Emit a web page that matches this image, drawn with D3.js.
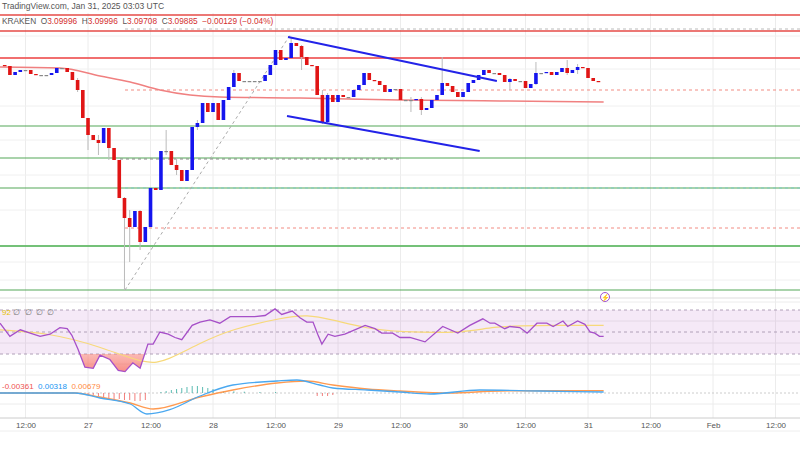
<!DOCTYPE html>
<html><head><meta charset="utf-8">
<script src="https://cdn.jsdelivr.net/npm/d3@7"></script>
<style>body{margin:0;background:#fff}svg{display:block;font-family:"Liberation Sans",Arial,sans-serif}</style>
</head><body><svg id="c" width="800" height="450"></svg>
<script>
// ---- data ----
const startTime = new Date(Date.UTC(2025,0,26,8)); // first hourly candle
const firstOpen = 3.130;
const closes = [3.128,3.110,3.116,3.120,3.120,3.112,3.110,3.110,3.110,3.114,
3.124,3.124,3.116,3.100,3.080,3.024,2.990,2.980,2.974,3.004,
2.964,2.940,2.864,2.824,2.806,2.838,2.776,2.806,2.884,2.880,
2.958,2.958,2.930,2.920,2.898,2.920,3.006,3.014,3.054,3.036,
3.054,3.020,3.060,3.086,3.114,3.098,3.098,3.098,3.098,3.098,
3.110,3.130,3.160,3.140,3.144,3.174,3.168,3.146,3.130,3.128,
3.070,3.016,3.070,3.056,3.070,3.066,3.066,3.080,3.090,3.114,
3.100,3.098,3.090,3.076,3.082,3.082,3.060,3.060,3.060,3.062,
3.040,3.044,3.060,3.070,3.094,3.088,3.076,3.066,3.076,3.094,
3.100,3.110,3.120,3.114,3.114,3.110,3.096,3.102,3.098,3.098,
3.084,3.092,3.114,3.114,3.116,3.110,3.116,3.124,3.114,3.120,
3.126,3.124,3.104,3.098,3.096];
// notable wicks: [candle index, high, low]
const wicks = [[14,3.104,3.076],[16,3.000,2.960],[18,2.990,2.950],[20,2.985,2.940],[23,2.866,2.680],[24,2.840,2.736],[26,2.840,2.760],
[31,3.000,2.950],[33,2.944,2.910],[37,3.020,3.000],[44,3.120,3.100],[55,3.186,3.150],[57,3.170,3.120],[61,3.080,3.012],[62,3.074,3.012],
[78,3.066,3.036],[80,3.066,3.030],[84,3.146,3.090],[97,3.104,3.080],[102,3.136,3.090],[108,3.140,3.110],[110,3.132,3.112]];
const hLevels = [{p:3.230,c:"#e53935",w:1.3},{p:3.198,c:"#e53935",w:1.3},{p:3.144,c:"#f06060",w:2},
{p:3.008,c:"#43a047",w:1.2},{p:2.944,c:"#43a047",w:1.2},{p:2.884,c:"#43a047",w:1.2},{p:2.768,c:"#66bb6a",w:2},{p:2.680,c:"#43a047",w:1.2}];
const dashLevels = [{p:3.080,c:"#f28b82",x0:125},{p:2.804,c:"#f28b82",x0:125},{p:3.202,c:"#bbbbbb",x0:125},{p:2.942,c:"#888888",x0:120,x1:400},{p:2.884,c:"#80cbc4",x0:125}];
// moving average [hours from Jan 27 00:00, price]
const maPts = [[-16.9,3.126],[-5.4,3.124],[2.3,3.108],[8.1,3.096],[13.8,3.080],[19.6,3.070],[25.3,3.066],[40.7,3.064],[59.9,3.060],[79.1,3.058],[99,3.056]];
const trendUpper = [[38.4,3.186],[78.5,3.098]];
const trendLower = [[38.2,3.028],[75.2,2.958]];
const diagPts = [[7.1,2.680],[38.8,3.190]];
const rsiPts = [[-16.9,58],[-15,46],[-13,52],[-11.1,49],[-9.2,46],[-7.3,48],[-5.4,54],[-4,53],[-3.1,47],[-1.9,34],[-0.6,18],[1,17],[2.3,29],[4.2,25],[5.8,15],[7.1,14],[8.6,22],[10,17],[11.5,39],[12.5,39],[13.8,50],[15.4,48],[16.7,45],[18,43],[20,56],[21.5,59],[23.4,61],[25.3,58],[27.3,64],[29.2,64],[32,64],[34,65],[35.9,71],[37.2,66],[39.2,69],[40.7,63],[42,59],[43.2,59],[44.1,48],[44.9,39],[46.1,48],[47.4,46],[49.3,48],[51.2,52],[53.2,56],[55.1,53],[56.4,49],[58.5,49],
[59.9,45],[61.8,45],[64.7,41],[68.1,55],[71,49],[73.3,56],[75.8,62],[77.2,58],[78.1,58],[80,53],[81,55],[82.9,54],[84.3,49],[86.2,58],[88.1,58],[89.3,55],[91.2,60],[92.1,55],[94,60],[95.4,57],[96.4,50],[97.3,49],[98.2,46],[99,46]];
const rsiMaPts = [[-16.9,52],[-7.3,49],[2.3,37],[11.3,20],[15.2,24],[21.5,40],[27.8,53],[37.4,63],[42,66],[47,61],[53.6,53],[59.9,50],[72,49],[77.7,55],[85.4,56],[99,56]];
const macdPts = [[-16.9,0],[-2.5,0],[2.3,-0.015],[8.1,-0.033],[11.3,-0.063],[15.7,-0.05],[21.5,-0.009],[27.8,0.024],[36.3,0.036],[40.1,0.039],[44.5,0.024],[47,0.015],[53.6,0.009],[59.9,0.003],[65.6,-0.003],[75.2,0.009],[86.8,0.006],[99,0.003]];
const signalPts = [[-16.9,0],[-2.5,0],[2.3,-0.012],[8.1,-0.03],[12.5,-0.048],[21.5,-0.012],[27.8,0.009],[36.3,0.03],[42,0.036],[47,0.024],[53.6,0.012],[59.9,0.006],[69.5,0],[79.1,0.006],[99,0.007]];
const histPts = [[0,-0.003],[1,-0.006],[2,-0.009],[3,-0.012],[4,-0.015],[5,-0.018],[6,-0.018],[7,-0.021],[8,-0.021],[9,-0.024],[10,-0.024],[11,-0.021],
[14,0.003],[15,0.006],[16,0.009],[17,0.012],[18,0.015],[19,0.018],[20,0.021],[21,0.021],[22,0.018],[23,0.015],[24,0.012],[26,0.006],[28,0.005],[30,0.004],[33,0.003],[36,0.003],[44,-0.009],[45,-0.009],[46,-0.009],[47,-0.006]];
const tickLabels = ["12:00","27","12:00","28","12:00","29","12:00","30","12:00","31","12:00","Feb","12:00"];

// ---- scales ----
const svg = d3.select("#c");
const H = 3600e3;
const t0 = new Date(Date.UTC(2025,0,27,0));
const x = d3.scaleUtc().domain([new Date(+t0 - 16.9*H), new Date(+t0 + 136.7*H)]).range([0,800]);
const xh = h => x(new Date(+t0 + h*H));
const y = d3.scaleLinear().domain([3.26,2.66]).range([0,300]);
const yR = d3.scaleLinear().domain([70,30]).range([310,354]);
const yM = d3.scaleLinear().domain([0,0.03]).range([393,383]);

// gridlines
const ticks = tickLabels.map((s,i)=>new Date(Date.UTC(2025,0,26,12) + i*12*H));
svg.append("g").selectAll("line").data(ticks).join("line")
 .attr("x1",d=>x(d)).attr("x2",d=>x(d)).attr("y1",13).attr("y2",418).attr("stroke","#ececec");
[36,69,106,140,175,210,262,280].forEach(v=>svg.append("line").attr("x1",0).attr("x2",800).attr("y1",v).attr("y2",v).attr("stroke","#f0f0f0"));
[302,321,343,364,375,404].forEach(v=>svg.append("line").attr("x1",0).attr("x2",800).attr("y1",v).attr("y2",v).attr("stroke","#ececec"));

// levels
svg.append("g").selectAll("line").data(hLevels).join("line")
 .attr("x1",0).attr("x2",800).attr("y1",d=>y(d.p)).attr("y2",d=>y(d.p)).attr("stroke",d=>d.c).attr("stroke-width",d=>d.w).attr("opacity",0.9);
svg.append("g").selectAll("line").data(dashLevels).join("line")
 .attr("x1",d=>d.x0).attr("x2",d=>d.x1||800).attr("y1",d=>y(d.p)).attr("y2",d=>y(d.p)).attr("stroke",d=>d.c).attr("stroke-dasharray","3,3");

// moving average
const lineP = d3.line().x(d=>xh(d[0])).y(d=>y(d[1])).curve(d3.curveMonotoneX);
svg.append("path").attr("d",lineP(maPts)).attr("fill","none").attr("stroke","#f08080").attr("stroke-width",1.5);
svg.append("path").attr("d",d3.line().x(d=>xh(d[0])).y(d=>y(d[1]))(diagPts)).attr("fill","none").attr("stroke","#aaa").attr("stroke-dasharray","3,3");

// candles
const cw = 3.6;
const cd = closes.map((c,i)=>{
  const o = i===0?firstOpen:closes[i-1];
  const w = wicks.find(k=>k[0]===i);
  return {t:new Date(+startTime + i*H), o, c, h: w?w[1]:Math.max(o,c), l: w?w[2]:Math.min(o,c)};
});
const cg = svg.append("g");
cg.selectAll("line").data(cd).join("line").attr("x1",d=>x(d.t)).attr("x2",d=>x(d.t))
 .attr("y1",d=>y(d.h)).attr("y2",d=>y(d.l)).attr("stroke","#bbb");
cg.selectAll("rect").data(cd).join("rect").attr("x",d=>x(d.t)-cw/2).attr("width",cw)
 .attr("y",d=>y(Math.max(d.o,d.c))).attr("height",d=>Math.max(1.2,Math.abs(y(d.o)-y(d.c))))
 .attr("fill",d=>d.c>d.o?"#1515ee":(d.c<d.o?"#e01515":"#888"));

// trendlines
const tl = d3.line().x(d=>xh(d[0])).y(d=>y(d[1]));
[trendUpper,trendLower].forEach(t=>svg.append("path").attr("d",tl(t)).attr("stroke","#2323e8").attr("stroke-width",2).attr("fill","none"));

// header
svg.append("rect").attr("x",0).attr("y",0).attr("width",800).attr("height",13).attr("fill","#fff");
svg.append("text").attr("x",2).attr("y",9).attr("font-size",8.5).attr("fill","#555").text("TradingView.com, Jan 31, 2025 03:03 UTC");
const hdr = svg.append("text").attr("x",2).attr("y",24).attr("font-size",8.3).attr("fill","#444");
[["KRAKEN  ","#555"],["O","#555"],["3.09996  ","#d32f2f"],["H","#555"],["3.09996  ","#d32f2f"],["L","#555"],["3.09708  ","#d32f2f"],["C","#555"],["3.09885  ","#d32f2f"],["−0.00129 (−0.04%)","#d32f2f"]]
 .forEach(s=>hdr.append("tspan").attr("fill",s[1]).attr("xml:space","preserve").text(s[0]));

// separator
svg.append("line").attr("x1",0).attr("x2",800).attr("y1",298).attr("y2",298).attr("stroke","#ddd");
// alert icon
svg.append("circle").attr("cx",605).attr("cy",297).attr("r",4.5).attr("fill","#fff").attr("stroke","#a050d0");
svg.append("text").attr("x",605).attr("y",300).attr("text-anchor","middle").attr("font-size",7).attr("fill","#a050d0").text("⚡");

// RSI pane
svg.append("rect").attr("x",0).attr("y",yR(70)).attr("width",800).attr("height",yR(30)-yR(70)).attr("fill","#9c27b0").attr("opacity",0.1);
[70,50,30].forEach(v=>svg.append("line").attr("x1",0).attr("x2",800).attr("y1",yR(v)).attr("y2",yR(v)).attr("stroke","#b0a0b8").attr("stroke-dasharray","3,3"));
const rl = d3.line().x(d=>xh(d[0])).y(d=>yR(d[1]));
const defs = svg.append("defs");
const gr = defs.append("linearGradient").attr("id","og").attr("x1",0).attr("x2",0).attr("y1",0).attr("y2",1);
gr.append("stop").attr("offset","0%").attr("stop-color","#fff").attr("stop-opacity",0.3);
gr.append("stop").attr("offset","100%").attr("stop-color","#f44336").attr("stop-opacity",0.6);
defs.append("clipPath").attr("id","below").append("rect").attr("x",0).attr("y",yR(30)).attr("width",800).attr("height",60);
svg.append("path").attr("clip-path","url(#below)").attr("d",d3.area().x(d=>xh(d[0])).y0(yR(30)).y1(d=>yR(d[1]))(rsiPts))
 .attr("fill","url(#og)");
svg.append("path").attr("d",d3.line().x(d=>xh(d[0])).y(d=>yR(d[1])).curve(d3.curveBasis)(rsiMaPts)).attr("fill","none").attr("stroke","#f7d97a").attr("stroke-width",1.2);
svg.append("path").attr("d",rl(rsiPts)).attr("fill","none").attr("stroke","#a64fc8").attr("stroke-width",1.3);
const rt = svg.append("text").attr("x",2).attr("y",315).attr("font-size",8);
rt.append("tspan").attr("fill","#e5c100").text("92  ");
rt.append("tspan").attr("fill","#777").attr("xml:space","preserve").text("∅  ∅  ∅  ∅");

// MACD pane
svg.append("line").attr("x1",0).attr("x2",800).attr("y1",yM(0)).attr("y2",yM(0)).attr("stroke","#ccc").attr("stroke-dasharray","2,2");
svg.append("g").selectAll("line").data(histPts).join("line").attr("x1",d=>xh(d[0])).attr("x2",d=>xh(d[0]))
 .attr("y1",yM(0)).attr("y2",d=>yM(d[1])).attr("stroke",d=>d[1]>=0?"#26a69a":"#ef5350").attr("opacity",0.75);
const ml = d3.line().x(d=>xh(d[0])).y(d=>yM(d[1])).curve(d3.curveMonotoneX);
svg.append("path").attr("d",ml(signalPts)).attr("fill","none").attr("stroke","#ff9a50").attr("stroke-width",1.3);
svg.append("path").attr("d",ml(macdPts)).attr("fill","none").attr("stroke","#4aa8f0").attr("stroke-width",1.3);
const mt = svg.append("text").attr("x",2).attr("y",389).attr("font-size",8);
[["-0.00361  ","#ef5350"],["0.00318  ","#2196f3"],["0.00679","#ff8a3d"]].forEach(s=>mt.append("tspan").attr("fill",s[1]).attr("xml:space","preserve").text(s[0]));

// time axis
svg.append("line").attr("x1",0).attr("x2",800).attr("y1",418).attr("y2",418).attr("stroke","#ccc");
svg.append("line").attr("x1",0).attr("x2",800).attr("y1",431).attr("y2",431).attr("stroke","#eee");
const ax = svg.append("g").attr("transform","translate(0,418)")
 .call(d3.axisBottom(x).tickValues(ticks).tickFormat((d,i)=>tickLabels[i]).tickSize(0).tickPadding(4));
ax.select(".domain").remove();
ax.selectAll("text").attr("fill","#555").attr("font-size",8);
</script></body></html>
